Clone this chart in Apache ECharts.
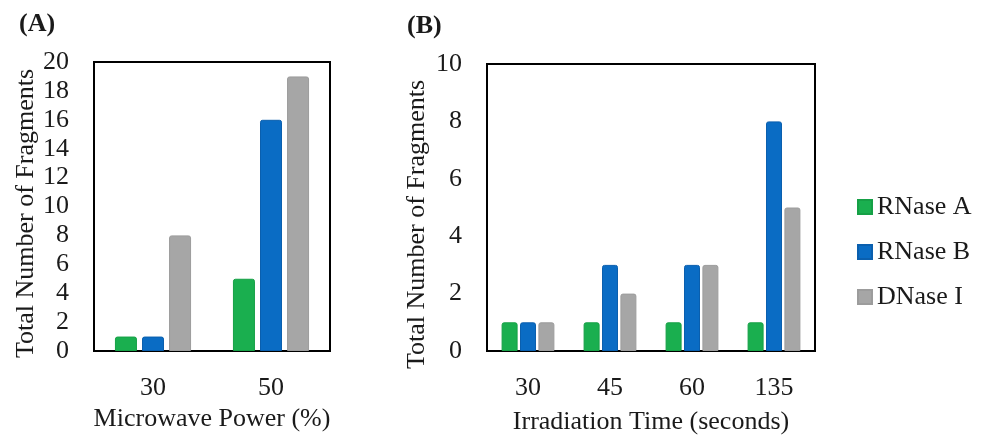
<!DOCTYPE html>
<html>
<head>
<meta charset="utf-8">
<script src="https://cdn.jsdelivr.net/npm/echarts@6/dist/echarts.min.js"></script>
<style>
  html, body { margin: 0; padding: 0; background: #fff; }
  #chart { width: 987px; height: 436px; }
</style>
</head>
<body>
<div id="chart"></div>
<script>
// Panel A: fragments vs microwave power
const powerCategories = ['30', '50'];
const powerRNaseA = [1, 5];
const powerRNaseB = [1, 16];
const powerDNaseI = [8, 19];

// Panel B: fragments vs irradiation time
const timeCategories = ['30', '45', '60', '135'];
const timeRNaseA = [1, 1, 1, 1];
const timeRNaseB = [1, 3, 3, 8];
const timeDNaseI = [1, 2, 3, 5];

const seriesNames = ['RNase A', 'RNase B', 'DNase I'];
const colors = ['#1aaf4f', '#0a6cc4', '#a6a6a6'];
const borders = ['#16a046', '#0a5fae', '#9c9c9c'];

const FONT = '"Liberation Serif", "Times New Roman", serif';
const FS = 26;

const chart = echarts.init(document.getElementById('chart'));

// shift: extra right padding on the rotated name, which nudges it downward
function yAxisFor(gridIndex, max, gap, shift) {
  return {
    type: 'value', gridIndex: gridIndex, min: 0, max: max, interval: 2,
    name: 'Total Number of Fragments', nameLocation: 'middle', nameGap: gap,
    nameTextStyle: { fontFamily: FONT, fontSize: FS, color: '#1a1a1a', padding: [0, shift, 0, 0] },
    axisLine: { show: false }, axisTick: { show: false }, splitLine: { show: false },
    axisLabel: { fontFamily: FONT, fontSize: FS, color: '#1a1a1a', margin: 25 }
  };
}

function xAxisFor(gridIndex, cats, title, gap) {
  return {
    type: 'category', gridIndex: gridIndex, data: cats,
    name: title, nameLocation: 'middle', nameGap: gap,
    nameTextStyle: { fontFamily: FONT, fontSize: FS, color: '#1a1a1a' },
    axisLine: { show: false }, axisTick: { show: false }, splitLine: { show: false },
    axisLabel: { fontFamily: FONT, fontSize: FS, color: '#1a1a1a', margin: 24 }
  };
}

function barSeries(gridIndex, idx, data, width, gap) {
  return {
    type: 'bar', name: seriesNames[idx], xAxisIndex: gridIndex, yAxisIndex: gridIndex,
    data: data, barWidth: width, barGap: gap,
    itemStyle: { color: colors[idx], borderColor: borders[idx], borderWidth: 1, borderRadius: [2, 2, 0, 0] }
  };
}

chart.setOption({
  animation: false,
  backgroundColor: '#fff',
  title: [
    { text: '(A)', left: 14, top: 6, textStyle: { fontFamily: FONT, fontSize: FS, fontWeight: 'bold', color: '#1a1a1a' } },
    { text: '(B)', left: 402, top: 8, textStyle: { fontFamily: FONT, fontSize: FS, fontWeight: 'bold', color: '#1a1a1a' } }
  ],
  legend: {
    orient: 'vertical', left: 852, top: 189, itemGap: 19,
    itemWidth: 14, itemHeight: 14, icon: 'rect',
    data: seriesNames,
    textStyle: { fontFamily: FONT, fontSize: FS, color: '#1a1a1a' }
  },
  grid: [
    { left: 94, top: 62, width: 236, height: 289, outerBoundsMode: 'none', containLabel: false,
      show: true, borderColor: '#000', borderWidth: 2, backgroundColor: 'transparent' },
    { left: 487, top: 64, width: 328, height: 287, outerBoundsMode: 'none', containLabel: false,
      show: true, borderColor: '#000', borderWidth: 2, backgroundColor: 'transparent' }
  ],
  xAxis: [
    xAxisFor(0, powerCategories, 'Microwave Power (%)', 47),
    xAxisFor(1, timeCategories, 'Irradiation Time (seconds)', 58)
  ],
  yAxis: [yAxisFor(0, 20, 55, 14), yAxisFor(1, 10, 57, 34)],
  series: [
    barSeries(0, 0, powerRNaseA, 22, '23%'),
    barSeries(0, 1, powerRNaseB, 22, '23%'),
    barSeries(0, 2, powerDNaseI, 22, '23%'),
    barSeries(1, 0, timeRNaseA, 16, '15%'),
    barSeries(1, 1, timeRNaseB, 16, '15%'),
    barSeries(1, 2, timeDNaseI, 16, '15%')
  ]
});
</script>
</body>
</html>
